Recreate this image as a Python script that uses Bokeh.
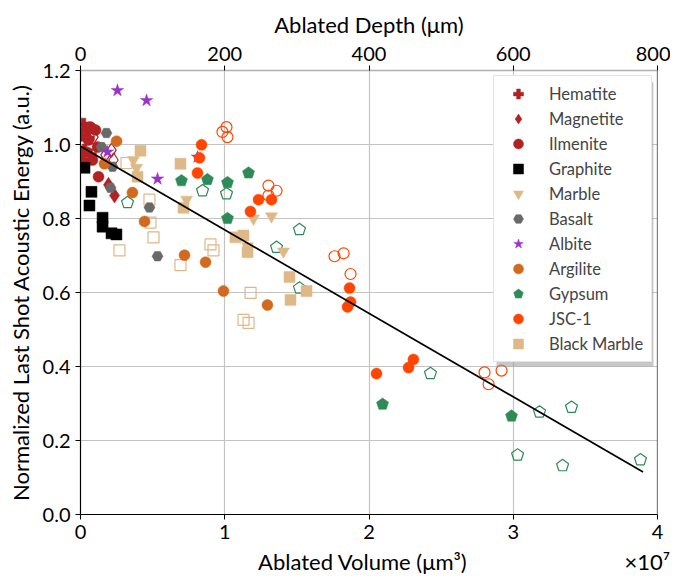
from bokeh.plotting import figure
from bokeh.models import (Range1d, LinearAxis, FixedTicker, PrintfTickFormatter,
                          CustomJSTickFormatter, Legend, LegendItem, Span, BoxAnnotation)
from bokeh.embed import file_html
from bokeh.resources import INLINE

FONT = "Lato"

# ---------------- data (x: ablated volume in um^3, y: normalized energy) ----------------
hematite_x = [0.021e7, 0.042e7, 0.007e7, 0.055e7, 0.028e7, 0.069e7, 0.014e7]
hematite_y = [1.055, 1.039, 1.025, 1.017, 0.985, 0.972, 0.958]

magnetite_x = [0.236e7, 0.194e7]
magnetite_y = [0.862, 0.891]
magnetite_open_x = [0.090e7, 0.215e7, 0.229e7, 0.173e7]
magnetite_open_y = [1.020, 0.985, 0.958, 0.972]

ilmenite_x = [0.104e7, 0.069e7, 0.035e7, 0.083e7, 0.125e7, 0.118e7, 0.055e7]
ilmenite_y = [1.039, 1.047, 0.980, 0.958, 0.913, 0.993, 1.012]

graphite_x = [0.028e7, 0.076e7, 0.062e7, 0.153e7, 0.153e7, 0.215e7, 0.249e7]
graphite_y = [0.937, 0.872, 0.835, 0.802, 0.778, 0.760, 0.757]

marble_x = [0.367e7, 0.388e7, 0.735e7, 1.199e7, 1.324e7, 1.407e7, 1.158e7]
marble_y = [0.958, 0.937, 0.851, 0.800, 0.806, 0.711, 0.725]

basalt_x = [0.180e7, 0.146e7, 0.222e7, 0.208e7, 0.478e7, 0.534e7]
basalt_y = [1.031, 0.993, 0.940, 0.883, 0.830, 0.698]

albite_x = [0.256e7, 0.458e7, 0.534e7, 0.187e7, 0.811e7]
albite_y = [1.146, 1.119, 0.907, 0.980, 0.966]

argilite_x = [0.250e7, 0.166e7, 0.360e7, 0.444e7, 0.721e7, 0.867e7, 0.991e7, 1.296e7]
argilite_y = [1.009, 0.948, 0.870, 0.792, 0.701, 0.682, 0.604, 0.566]

gypsum_x = [0.700e7, 0.880e7, 1.019e7, 1.165e7, 1.019e7, 2.094e7, 2.988e7]
gypsum_y = [0.902, 0.905, 0.897, 0.923, 0.800, 0.298, 0.266]
gypsum_open_x = [0.326e7, 0.846e7, 1.012e7, 1.518e7, 1.359e7, 1.518e7,
                 2.426e7, 3.182e7, 3.404e7, 3.030e7, 3.342e7, 3.882e7]
gypsum_open_y = [0.843, 0.875, 0.867, 0.770, 0.722, 0.612,
                 0.381, 0.277, 0.290, 0.161, 0.132, 0.148]

jsc_x = [0.839e7, 0.825e7, 0.811e7, 1.234e7, 1.324e7, 1.178e7,
         1.865e7, 1.872e7, 1.851e7, 2.052e7, 2.274e7, 2.308e7]
jsc_y = [0.999, 0.964, 0.923, 0.851, 0.851, 0.819,
         0.612, 0.574, 0.561, 0.381, 0.397, 0.419]
jsc_open_x = [0.984e7, 1.012e7, 1.019e7, 1.303e7, 1.359e7, 1.303e7,
              1.761e7, 1.824e7, 1.872e7, 2.801e7, 2.919e7, 2.829e7]
jsc_open_y = [1.034, 1.047, 1.020, 0.889, 0.875, 0.862,
              0.698, 0.706, 0.650, 0.384, 0.389, 0.352]

bmarble_x = [0.416e7, 0.395e7, 0.693e7, 0.714e7, 1.074e7, 1.130e7, 1.158e7, 1.449e7, 1.456e7, 1.567e7]
bmarble_y = [0.983, 0.913, 0.948, 0.829, 0.749, 0.754, 0.709, 0.642, 0.580, 0.604]
bmarble_open_x = [0.319e7, 0.478e7, 0.485e7, 0.506e7, 0.270e7, 0.901e7, 0.922e7,
                  0.693e7, 1.179e7, 1.130e7, 1.165e7]
bmarble_open_y = [0.950, 0.851, 0.789, 0.749, 0.714, 0.730, 0.714,
                  0.674, 0.599, 0.526, 0.518]

fit_x = [0.0, 3.90e7]
fit_y = [0.995, 0.115]

x_ticks = [0, 1e7, 2e7, 3e7, 4e7]
y_ticks = [0.0, 0.2, 0.4, 0.6, 0.8, 1.0, 1.2]
depth_ticks = [0, 200, 400, 600, 800]

NB = "\u00a0"
x_label = NB * 34 + "Ablated Volume (μm³)" + NB * 28 + "×10⁷"

# ---------------- figure ----------------
p = figure(width=670, height=577, x_range=Range1d(0, 4e7), y_range=Range1d(0, 1.2),
           output_backend="svg", toolbar_location=None,
           min_border_left=80, min_border_right=13, min_border_top=70, min_border_bottom=60)
p.outline_line_color = None
p.background_fill_color = "white"

bottom_axis = p.below[0]
left_axis = p.left[0]

p.extra_x_ranges = {"depth": Range1d(0, 800)}
top_axis = LinearAxis(x_range_name="depth", axis_label="Ablated Depth (μm)",
                      ticker=FixedTicker(ticks=depth_ticks))
p.add_layout(top_axis, "above")

bottom_axis.ticker = FixedTicker(ticks=x_ticks)
bottom_axis.formatter = CustomJSTickFormatter(code="return (tick/1e7).toFixed(0);")
bottom_axis.axis_label = x_label
left_axis.ticker = FixedTicker(ticks=y_ticks)
left_axis.formatter = PrintfTickFormatter(format="%.1f")
left_axis.axis_label = "Normalized Last Shot Acoustic Energy (a.u.)"

for ax in (bottom_axis, left_axis, top_axis):
    ax.axis_label_text_font = FONT
    ax.axis_label_text_font_style = "normal"
    ax.axis_label_text_font_size = "22px"
    ax.axis_label_text_color = "black"
    ax.axis_label_standoff = 6
    ax.major_label_text_font = FONT
    ax.major_label_text_font_size = "20px"
    ax.major_label_text_color = "black"
    ax.major_label_standoff = 5
    ax.minor_tick_line_color = None
    ax.major_tick_in = 0
    ax.major_tick_out = 5
    ax.major_tick_line_color = "black"
    ax.axis_line_color = "black"
    ax.axis_line_width = 1.2
top_axis.axis_line_color = "#b0b0b0"
top_axis.axis_line_width = 1.5

p.xgrid.ticker = FixedTicker(ticks=x_ticks)
p.ygrid.ticker = FixedTicker(ticks=y_ticks)
p.grid.grid_line_color = "#c4c4c4"
p.grid.grid_line_width = 1.2

p.add_layout(Span(location=4e7, dimension="height", line_color="black", line_width=1.2))

RED = "#b22222"
TAN = "#deb887"
GRN = "#2e8b57"
ORG = "#ff4500"

items = []

def sc(x, y, marker, color, size, label=None, filled=True, lw=1.2):
    r = p.scatter(x, y, marker=marker, size=size,
                  fill_color=color if filled else None,
                  line_color=color, line_width=lw if not filled else 0.5)
    if label:
        items.append(LegendItem(label=label, renderers=[r]))
    return r

def pent(x, y, color, label=None, filled=True):
    r = p.ngon(x=x, y=y, radius=6.3, radius_units="screen", n=5, angle=0.0,
               fill_color=color if filled else None, line_color=color,
               line_width=1.2 if not filled else 0.5)
    if label:
        items.append(LegendItem(label=label, renderers=[r]))
    return r

# open markers first (drawn underneath)
sc(bmarble_open_x, bmarble_open_y, "square", TAN, 11, filled=False)
pent(gypsum_open_x, gypsum_open_y, GRN, filled=False)
sc(jsc_open_x, jsc_open_y, "circle", ORG, 11, filled=False)
sc(magnetite_open_x, magnetite_open_y, "diamond", RED, 14, filled=False)

sc(hematite_x, hematite_y, "plus", RED, 12, "Hematite")
sc(magnetite_x, magnetite_y, "diamond", RED, 15, "Magnetite")
sc(ilmenite_x, ilmenite_y, "circle", RED, 11, "Ilmenite")
sc(graphite_x, graphite_y, "square", "black", 11, "Graphite")
sc(marble_x, marble_y, "inverted_triangle", TAN, 12, "Marble")
sc(basalt_x, basalt_y, "hex", "#696969", 11, "Basalt")
sc(albite_x, albite_y, "star", "#9932cc", 13, "Albite")
sc(argilite_x, argilite_y, "circle", "#d2691e", 11, "Argilite")
pent(gypsum_x, gypsum_y, GRN, "Gypsum")
sc(jsc_x, jsc_y, "circle", ORG, 11, "JSC-1")
sc(bmarble_x, bmarble_y, "square", TAN, 11, "Black Marble")

p.line(fit_x, fit_y, line_color="black", line_width=1.7)

# legend shadow + legend
shadow = BoxAnnotation(left=2.884e7, right=3.972e7, top=1.168, bottom=0.400,
                       fill_color="#999999", fill_alpha=0.55, line_color=None)
p.add_layout(shadow)

legend = Legend(items=items, location=(413, 152))
legend.label_text_font = FONT
legend.label_text_font_size = "16.5px"
legend.label_height = 25
legend.glyph_height = 25
legend.glyph_width = 38
legend.label_width = 97
legend.label_standoff = 12
legend.spacing = 0
legend.padding = 5
legend.margin = 0
legend.border_line_color = "#cccccc"
legend.border_line_width = 1
legend.background_fill_color = "white"
legend.background_fill_alpha = 1.0
p.add_layout(legend, "center")

open("out.html", "w").write(file_html(p, INLINE))
